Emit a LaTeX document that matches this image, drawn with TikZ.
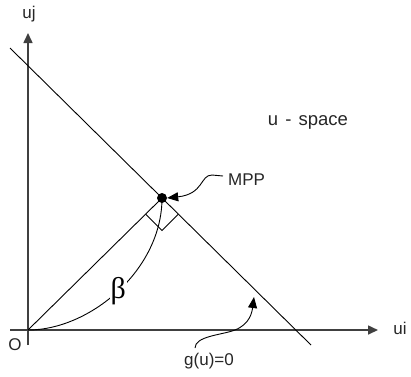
\documentclass[tikz,border=0pt]{standalone}
\usepackage{fontspec}
\setmainfont{Liberation Sans}
\newfontfamily\betafont{Liberation Serif}
\usetikzlibrary{arrows.meta}
\begin{document}
\begin{tikzpicture}[x=1pt,y=-1pt,
  axis/.style={line width=1.6pt,draw=black!75},
  thinline/.style={line width=0.9pt},
  lbl/.style={font=\fontsize{17}{19}\selectfont,inner sep=0pt,text=black!85},
  bigtip/.style={-{Triangle[length=10pt,width=9pt]}},
  smalltip/.style={-{Triangle[length=11pt,width=9pt]}}]
\useasboundingbox (0,0) rectangle (411,376);
% coordinates
\coordinate (O) at (28,330);
\coordinate (xs) at (10,330);
\coordinate (xe) at (378,330);
\coordinate (ys) at (28,345);
\coordinate (ye) at (28,33);
\coordinate (ls) at (10,48);
\coordinate (le) at (311,345);
\node[circle,fill=black,inner sep=0pt,minimum size=10pt] (MPP) at (162,198) {};
% axes
\draw[axis,bigtip] (xs) -- (xe);
\draw[axis,bigtip] (ys) -- (ye);
% limit state line
\draw[thinline] (ls) -- (le);
% line O to MPP
\draw[thinline] (O) -- (MPP.center);
% right angle marker
\coordinate (ra1) at (145.7,214.3);
\coordinate (ra2) at (162,230.5);
\coordinate (ra3) at (178.3,214.3);
\draw[thinline] (ra1) -- (ra2) -- (ra3);
% labels
\node[lbl] (uj) at (29,14) {uj};
\node[lbl] (ui) at (400,328) {ui};
\node[lbl] (Olbl) at (15,345) {O};
\node[lbl,font=\fontsize{18.5}{20}\selectfont] (space) at (308,122) {u\hspace{2pt} - \hspace{2pt}space};
\node[lbl,anchor=west] (mpplbl) at (228,180) {MPP};
\node[lbl] (glbl) at (209,361) {g(u)=0};
% beta curve
\draw[thinline] (O) .. controls (90,330) and (162,270) .. (MPP.center)
  node[pos=0.5,fill=white,inner sep=1pt,font=\betafont\fontsize{30}{32}\selectfont] (beta) {β};
% MPP arrow
\coordinate (m1) at (212,175);
\draw[thinline,smalltip] (mpplbl.west) ++(-5,-4) coordinate (m0) -- (m1) .. controls (200,175) and (204,194) .. (MPP.east);
% g arrow
\coordinate (g0) at (195,348);
\coordinate (g1) at (235,330);
\coordinate (g2) at (254,297);
\draw[thinline,smalltip] (g0) .. controls (195,336) and (222,335) .. (g1) .. controls (250,324) and (252,312) .. (g2);
\end{tikzpicture}
\end{document}
